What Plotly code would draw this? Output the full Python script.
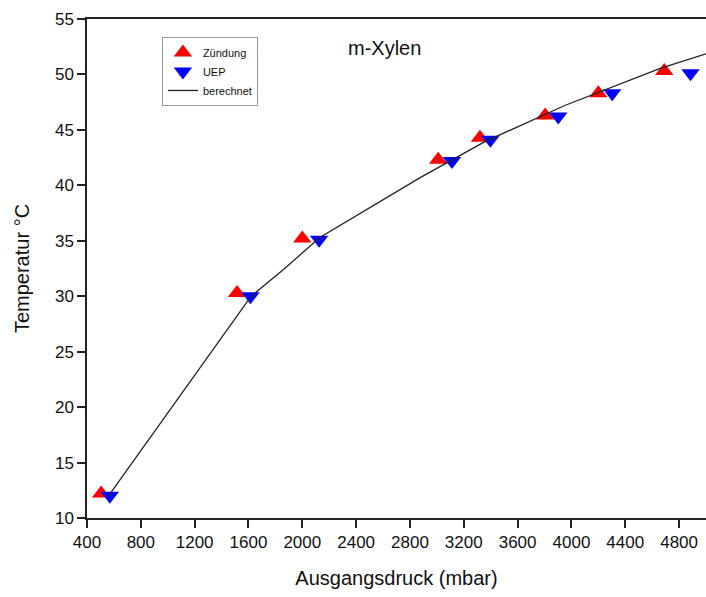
import plotly.graph_objects as go

# Data
zuendung_x = [505, 1515, 2000, 3010, 3320, 3805, 4200, 4690]
zuendung_y = [12.2, 30.3, 35.2, 42.3, 44.3, 46.3, 48.3, 50.3]
uep_x = [570, 1615, 2125, 3112, 3398, 3902, 4303, 4885]
uep_y = [12.0, 30.0, 35.1, 42.2, 44.1, 46.2, 48.3, 50.1]
calc_x = [560, 1620, 1860, 2130, 2876, 3350, 3950, 4660, 5000]
calc_y = [12.0, 30.0, 32.4, 35.3, 40.7, 43.9, 47.2, 50.55, 51.85]

x_ticks = [400, 800, 1200, 1600, 2000, 2400, 2800, 3200, 3600, 4000, 4400, 4800]
y_ticks = [10, 15, 20, 25, 30, 35, 40, 45, 50, 55]

FONT = "Liberation Sans, Arial, sans-serif"

fig = go.Figure()
fig.add_trace(go.Scatter(
    x=zuendung_x, y=zuendung_y, mode="markers", name="Zündung",
    marker=dict(symbol="triangle-up", size=16, color="#ff0000", line=dict(width=0)),
))
fig.add_trace(go.Scatter(
    x=uep_x, y=uep_y, mode="markers", name="UEP",
    marker=dict(symbol="triangle-down", size=16, color="#0000ff", line=dict(width=0)),
))
fig.add_trace(go.Scatter(
    x=calc_x, y=calc_y, mode="lines", name="berechnet",
    line=dict(color="#222222", width=1.3),
))

fig.update_layout(
    width=706, height=597,
    margin=dict(l=87, r=0, t=19, b=79),
    paper_bgcolor="white", plot_bgcolor="white",
    font=dict(family=FONT, color="#111111"),
    showlegend=True,
    legend=dict(
        x=0.121, y=0.964, xanchor="left", yanchor="top",
        bgcolor="white", bordercolor="#999999", borderwidth=1,
        font=dict(size=11, family=FONT, color="#111111"),
        itemwidth=30, tracegroupgap=0,
    ),
    annotations=[dict(
        text="m-Xylen", x=0.48, y=0.942, xref="paper", yref="paper",
        xanchor="center", yanchor="middle",
        showarrow=False, font=dict(size=20, family=FONT, color="#111111"),
    )],
)
fig.update_xaxes(
    range=[400, 5000], tickvals=x_ticks, ticktext=[str(t) for t in x_ticks],
    showgrid=False, zeroline=False,
    showline=True, linecolor="#222222", linewidth=1.5, mirror=True,
    ticks="outside", ticklen=8, tickwidth=1.5, tickcolor="#222222",
    tickfont=dict(size=17, family=FONT, color="#111111"),
    title=dict(text="Ausgangsdruck (mbar)", font=dict(size=20, family=FONT, color="#111111"), standoff=20),
)
fig.update_yaxes(
    range=[10, 55], tickvals=y_ticks,
    showgrid=False, zeroline=False,
    showline=True, linecolor="#222222", linewidth=1.5, mirror=False,
    ticks="outside", ticklen=8, tickwidth=1.5, tickcolor="#222222",
    tickfont=dict(size=17, family=FONT, color="#111111"),
    title=dict(text="Temperatur °C", font=dict(size=20, family=FONT, color="#111111"), standoff=20),
)

fig.write_html("out.html")
